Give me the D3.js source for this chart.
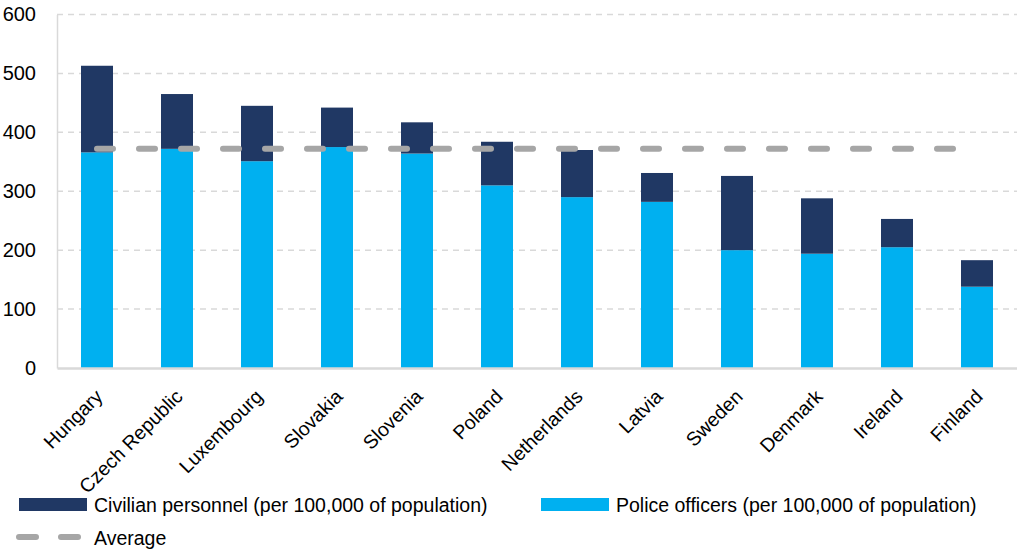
<!DOCTYPE html>
<html>
<head>
<meta charset="utf-8">
<title>Police and civilian personnel per 100,000</title>
<script src="https://cdn.jsdelivr.net/npm/d3@7"></script>
<style>
  body { margin: 0; background: #fff; }
  text { font-family: "Liberation Sans", Arial, sans-serif; fill: #000; }
</style>
</head>
<body>
<script>
var countries = ["Hungary", "Czech Republic", "Luxembourg", "Slovakia", "Slovenia", "Poland",
                 "Netherlands", "Latvia", "Sweden", "Denmark", "Ireland", "Finland"];
var police = [366, 372, 351, 375, 364, 310, 290, 282, 200, 194, 205, 138];
var civilian = [147, 93, 94, 67, 53, 74, 80, 49, 126, 94, 48, 45];
var average = 372;
var yTicks = [0, 100, 200, 300, 400, 500, 600];

var width = 1017, height = 551,
    plotLeft = 57, plotRight = 1017, plotTop = 14.5, plotBottom = 368;

var svg = d3.select("body").append("svg")
    .attr("width", width).attr("height", height);

var x = d3.scaleBand().domain(countries).range([plotLeft, plotRight]).paddingInner(0.6).paddingOuter(0.3);
var y = d3.scaleLinear().domain([0, 600]).range([plotBottom, plotTop]);

// gridlines
svg.append("g").selectAll("line").data(yTicks.slice(1)).enter().append("line")
    .attr("x1", plotLeft).attr("x2", plotRight)
    .attr("y1", function(d) { return y(d); }).attr("y2", function(d) { return y(d); })
    .attr("stroke", "#d9d9d9").attr("stroke-width", 1.5).attr("stroke-dasharray", "6,5");

// y axis
var yAxis = d3.axisLeft(y).tickValues(yTicks).tickSize(0).tickPadding(21);
var gy = svg.append("g").attr("transform", "translate(" + plotLeft + ",0)").call(yAxis);
gy.select(".domain").attr("stroke", "#d9d9d9").attr("stroke-width", 1.5);
gy.selectAll("text").attr("font-size", "20px").attr("font-family", "Liberation Sans, Arial, sans-serif").attr("fill", "#000");

// bars
var rows = countries.map(function(c, i) { return { c: c, p: police[i], v: civilian[i] }; });
svg.append("g").selectAll("rect").data(rows).enter().append("rect")
    .attr("x", function(d) { return x(d.c); })
    .attr("width", x.bandwidth())
    .attr("y", function(d) { return y(d.p); })
    .attr("height", function(d) { return y(0) - y(d.p); })
    .attr("fill", "#00b0f0");
svg.append("g").selectAll("rect").data(rows).enter().append("rect")
    .attr("x", function(d) { return x(d.c); })
    .attr("width", x.bandwidth())
    .attr("y", function(d) { return y(d.p + d.v); })
    .attr("height", function(d) { return y(d.p) - y(d.p + d.v); })
    .attr("fill", "#203864");

// x axis
var xAxis = d3.axisBottom(x).tickSize(0).tickPadding(0);
var gx = svg.append("g").attr("transform", "translate(0," + plotBottom + ")").call(xAxis);
gx.select(".domain").attr("stroke", "#d9d9d9").attr("stroke-width", 2.5);
gx.selectAll("text")
    .attr("font-size", "19.5px").attr("font-family", "Liberation Sans, Arial, sans-serif").attr("fill", "#000")
    .attr("text-anchor", "end")
    .attr("dy", "0.35em")
    .attr("y", 0)
    .attr("transform", "translate(2,25) rotate(-45)");

// average line
var first = x(countries[0]) + x.bandwidth() / 2,
    last = x(countries[countries.length - 1]) + x.bandwidth() / 2;
svg.append("line")
    .attr("x1", first).attr("x2", last)
    .attr("y1", y(average)).attr("y2", y(average))
    .attr("stroke", "#a6a6a6").attr("stroke-width", 6)
    .attr("stroke-linecap", "round").attr("stroke-dasharray", "16,26");

// legend
var leg = svg.append("g");
leg.append("rect").attr("x", 19).attr("y", 498).attr("width", 68).attr("height", 13).attr("fill", "#203864");
leg.append("text").attr("x", 94).attr("y", 505).attr("dy", "0.35em").attr("font-size", "19.5px")
    .text("Civilian personnel (per 100,000 of population)");
leg.append("rect").attr("x", 541).attr("y", 498).attr("width", 68).attr("height", 13).attr("fill", "#00b0f0");
leg.append("text").attr("x", 616).attr("y", 505).attr("dy", "0.35em").attr("font-size", "19.5px")
    .text("Police officers (per 100,000 of population)");
leg.append("line").attr("x1", 19).attr("x2", 82).attr("y1", 537).attr("y2", 537)
    .attr("stroke", "#a6a6a6").attr("stroke-width", 6)
    .attr("stroke-linecap", "round").attr("stroke-dasharray", "17,25");
leg.append("text").attr("x", 94).attr("y", 538).attr("dy", "0.35em").attr("font-size", "19.5px")
    .text("Average");
</script>
</body>
</html>
